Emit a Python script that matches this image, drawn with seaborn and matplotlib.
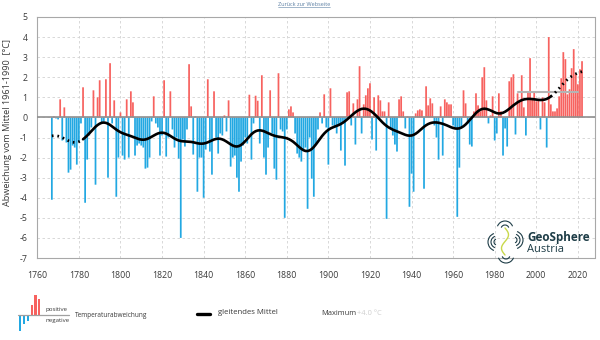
import numpy as np
import pandas as pd
import matplotlib
matplotlib.use("Agg")
import matplotlib.pyplot as plt
import seaborn as sns
from matplotlib.patches import Rectangle, Arc

# ---------------- data (winter temperature anomaly vs. 1961-1990, °C) ----------------
first_year = 1767
anom_1767_1799 = [-4.1, 0.05, -0.05, -0.1, 0.9, -1.15, 0.5, -1.25, -2.75, -2.6, -1.4, -1.5, -2.35,
                  -1.2, -0.3, 1.5, -4.25, -2.1, -0.9, -0.5, 1.35, -3.35, 1.0,
                  1.85, -0.3, -0.2, 1.9, -3.0, 2.7, -0.3, 0.85, -3.95, -2.0]
anom_1800_1839 = [0.25, -1.9, -2.1, 0.9, -2.0, 1.3, 0.75, -1.9, -1.4, -1.3,
                  -1.4, -1.5, -2.55, -2.5, -2.0, -0.2, 1.05, -0.3, -0.5, -1.9,
                  -0.9, 1.85, -1.95, -1.0, 1.3, -0.6, -1.5, -1.0, -2.05, -6.0,
                  -1.1, -1.45, -0.6, 2.65, 0.55, -1.85, 0.05, -3.7, -2.0, -2.0]
anom_1840_1879 = [-4.0, -1.6, 1.9, -1.7, -2.85, 1.3, -1.0, -1.8, -0.8, -0.9,
                  0.1, -0.7, 0.85, -2.45, -2.0, -1.9, -3.0, -3.7, -2.2, -1.4,
                  -1.0, -1.3, 1.13, -2.1, -0.3, 1.08, 0.83, -1.3, 2.1, -2.0,
                  -2.85, -1.5, 1.35, -0.8, -2.55, -3.1, 2.2, -0.6, -0.7, -5.0]
anom_1880_1919 = [-0.6, 0.4, 0.55, 0.25, -0.8, -1.8, -2.0, -2.2, -1.6, -1.5,
                  -4.55, -1.0, -3.05, -3.95, -1.3, -0.6, 0.25, -0.3, 1.15, -0.5,
                  -2.35, 1.45, -0.4, -0.5, -0.8, -0.4, -1.65, -0.3, -2.4, 1.25,
                  1.3, -0.4, 0.7, -1.35, 0.9, 2.55, -0.8, 0.65, 1.1, 1.45]
anom_1920_1959 = [1.7, -1.1, 1.0, -1.65, 1.1, 0.85, 0.3, 0.3, -5.05, 0.75,
                  -0.6, -0.9, -1.35, -1.7, 0.9, 1.05, 0.3, -0.55, 0.05, -4.45,
                  -2.8, -3.7, 0.2, 0.35, 0.4, 0.35, -3.55, 1.55, 0.6, 0.95,
                  0.7, -0.4, -1.0, -2.1, 0.55, -1.9, 0.9, 0.75, 0.65, 0.65]
anom_1960_1999 = [-0.4, -0.5, -4.95, -2.5, -0.5, 1.35, 0.7, -0.3, -1.35, -1.45,
                  0.3, 1.2, 0.6, 0.3, 2.0, 2.5, 0.85, -0.3, 0.1, 1.05,
                  -1.15, -0.8, 1.2, 0.3, -1.9, -0.55, -1.45, 1.8, 2.0, 2.15,
                  -0.85, 1.2, 0.8, 2.1, 0.5, -0.9, 1.3, 2.95, 0.95, 1.3]
anom_2000_2022 = [0.8, 0.9, -0.6, 1.0, 0.75, -1.5, 4.0, 0.65, 0.3, 0.3,
                  0.45, 1.05, 1.95, 3.25, 2.9, 1.15, 1.4, 2.45, 3.4, 2.15,
                  1.65, 2.4, 2.8]

normal_period = (1991, 2020)
x_ticks = list(range(1760, 2021, 20))
y_ticks = list(range(-7, 6))
y_label = "Abweichung vom Mittel 1961-1990  [°C]"

anomaly = np.array(anom_1767_1799 + anom_1800_1839 + anom_1840_1879 + anom_1880_1919
                   + anom_1920_1959 + anom_1960_1999 + anom_2000_2022)
years = np.arange(first_year, first_year + len(anomaly))
n = len(anomaly)

# moving average: gaussian weighted, +-15 years window
half = 15
sigma = 5.0
k = np.arange(-half, half + 1)
w = np.exp(-0.5 * (k / sigma) ** 2)
smooth = np.empty(n)
for i in range(n):
    lo, hi = max(0, i - half), min(n, i + half + 1)
    ww = w[lo - i + half: hi - i + half]
    smooth[i] = np.sum(ww * anomaly[lo:hi]) / ww.sum()

mask_norm = (years >= normal_period[0]) & (years <= normal_period[1])
normal_mean = anomaly[mask_norm].mean()

RED = "#f7625f"
BLUE = "#22a8e2"

# ---------------- figure ----------------
sns.set_style("white")
plt.rcParams["font.family"] = ["Open Sans", "DejaVu Sans"]

W, H = 600, 340
fig = plt.figure(figsize=(6, 3.4), dpi=100)
L, R, T, B = 37.3, 594.5, 17, 258
ax = fig.add_axes([L / W, 1 - B / H, (R - L) / W, (B - T) / H])

df = pd.DataFrame({"year": years, "anomaly": anomaly,
                   "sign": np.where(anomaly >= 0, "positiv", "negativ")})
sns.barplot(data=df, x="year", y="anomaly", hue="sign",
            palette={"positiv": RED, "negativ": BLUE}, native_scale=True,
            dodge=False, width=0.84, saturation=1, linewidth=0, edgecolor="none",
            errorbar=None, legend=False, ax=ax, zorder=2)
for p in ax.patches:
    p.set_snap(False)
    p.set_antialiased(True)

# moving average
solid = slice(half, n - half)
sns.lineplot(x=years[solid], y=smooth[solid], color="black", lw=1.9, ax=ax, zorder=5)
ax.plot(years[:half + 1], smooth[:half + 1], color="black", lw=2.0,
        linestyle=(0, (0.6, 1.4)), zorder=5)
ax.plot(years[n - half - 1:], smooth[n - half - 1:], color="black", lw=2.0,
        linestyle=(0, (0.6, 1.4)), zorder=5)

# 1991-2020 mean
ax.plot([normal_period[0], normal_period[1]], [normal_mean, normal_mean],
        color="#b4b4b4", lw=1.5, zorder=4)

# zero line
ax.axhline(0, color="#8f8f8f", lw=1.2, zorder=3)

ax.set_xlim(1760, 2028)
ax.set_ylim(-7, 5)
ax.set_xticks(x_ticks)
ax.set_xticklabels([str(t) for t in x_ticks])
ax.set_yticks(y_ticks)
ax.set_yticklabels([str(t) for t in y_ticks])
ax.set_xlabel("")
ax.set_ylabel("")
ax.grid(True, color="#d2d2d2", lw=0.6, linestyle=(0, (3, 3)), zorder=0)
ax.set_axisbelow(True)
for s in ax.spines.values():
    s.set_color("#a8a8a8")
    s.set_linewidth(0.8)
    s.set_visible(True)
ax.tick_params(axis="both", length=0, labelsize=6.3, colors="#3a3a3a")
ax.tick_params(axis="x", pad=9)
ax.tick_params(axis="y", pad=7)

fig.text(8 / W, 1 - 122 / H, y_label, rotation=90, ha="center", va="center",
         fontsize=6.6, color="#3a3a3a")

# ---------------- overlay in pixel coordinates ----------------
ov = fig.add_axes([0, 0, 1, 1], zorder=10)
ov.set_xlim(0, W)
ov.set_ylim(H, 0)
ov.axis("off")
ov.patch.set_alpha(0)

# top link
ov.text(304, 4.5, "Zurück zur Webseite", ha="center", va="center",
        fontsize=4.0, color="#5b7fa3")
ov.plot([278, 330], [7.2, 7.2], color="#5b7fa3", lw=0.4)

# legend icon
for x0, h in [(18.5, 16), (22.5, 9), (26.5, 6)]:
    ov.add_patch(Rectangle((x0, 314.6), 2.6, h, color=BLUE, lw=0))
for x0, h in [(30.8, 10), (34.3, 19.5), (37.8, 15.5)]:
    ov.add_patch(Rectangle((x0, 314.6 - h), 2.6, h, color=RED, lw=0))
ov.plot([18, 69], [314.6, 314.6], color="#a0a0a0", lw=0.9)
ov.text(46, 309.5, "positive", fontsize=4.4, color="#3a3a3a", ha="left", va="center")
ov.text(46, 320.5, "negative", fontsize=4.4, color="#3a3a3a", ha="left", va="center")
ov.text(75, 315.5, "Temperaturabweichung", fontsize=4.7, color="#3a3a3a",
        ha="left", va="center")
ov.plot([197, 210], [314, 314], color="black", lw=2.4, solid_capstyle="round")
ov.text(218, 313, "gleitendes Mittel", fontsize=5.6, color="#3a3a3a",
        ha="left", va="center")
ov.text(321, 313.5, "Maximum", fontsize=5.4, color="#3a3a3a", ha="left", va="center")
ov.text(357, 313.5, "+4.0 °C", fontsize=5.4, color="#cfcfcf", ha="left", va="center")

# logo
TEAL = "#1e3d47"
ov.text(527, 237.5, "GeoSphere", fontsize=8.4, fontweight="bold", color=TEAL,
        ha="left", va="center")
ov.text(527, 249.5, "Austria", fontsize=8.0, color=TEAL, ha="left", va="center")
for r in [3, 6, 9]:
    ov.add_patch(Arc((497, 242), 2 * r, 2 * r, theta1=110, theta2=250, color=TEAL, lw=0.8))
for r in [3, 6, 9]:
    ov.add_patch(Arc((514, 240), 2 * r, 2 * r, theta1=-70, theta2=70, color=TEAL, lw=0.8))
for r in [4, 8]:
    ov.add_patch(Arc((505, 229), 2 * r, 2 * r, theta1=200, theta2=340, color=TEAL, lw=0.8))
    ov.add_patch(Arc((506, 255), 2 * r, 2 * r, theta1=20, theta2=160, color=TEAL, lw=0.8))
yy = np.linspace(228, 255, 40)
ov.plot(505 + 3.5 * np.sin((yy - 228) / 27 * 2 * np.pi), yy, color="#c9d94b", lw=1.0)

fig.savefig("out.png", dpi=100)
